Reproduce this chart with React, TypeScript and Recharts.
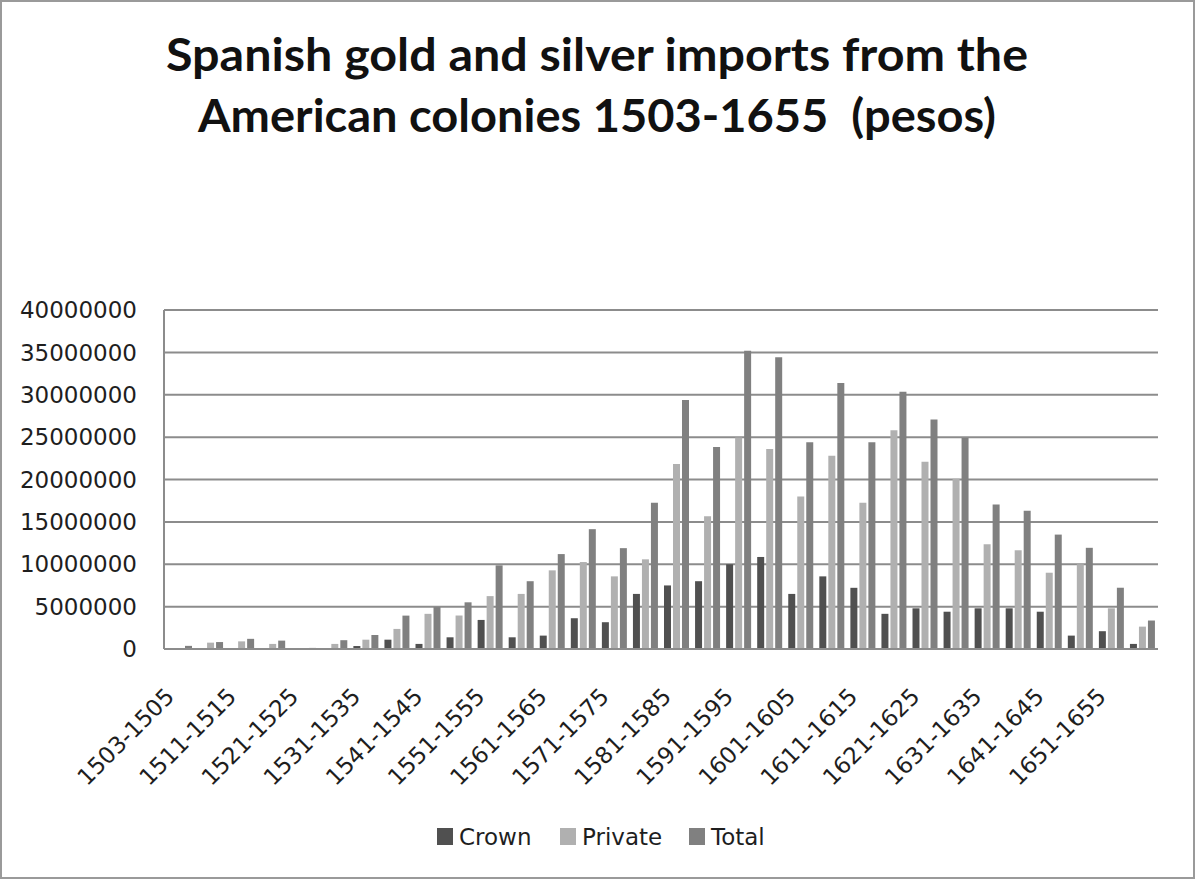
import React from "react";
import { BarChart, Bar, XAxis, YAxis, CartesianGrid } from "recharts";

const categories = [
  "1503-1505", "1506-1510", "1511-1515", "1516-1520", "1521-1525", "1526-1530",
  "1531-1535", "1536-1540", "1541-1545", "1546-1550", "1551-1555", "1556-1560",
  "1561-1565", "1566-1570", "1571-1575", "1576-1580", "1581-1585", "1586-1590",
  "1591-1595", "1596-1600", "1601-1605", "1606-1610", "1611-1615", "1616-1620",
  "1621-1625", "1626-1630", "1631-1635", "1636-1640", "1641-1645", "1646-1650",
  "1651-1655", "1656-1660",
];

const crown = [
  0, 0, 0, 0, 0, 0,
  350000, 1100000, 600000, 1380000, 3430000, 1380000,
  1580000, 3630000, 3160000, 6500000, 7500000, 8000000,
  10000000, 10860000, 6500000, 8570000, 7220000, 4150000,
  4800000, 4400000, 4800000, 4800000, 4400000, 1580000,
  2100000, 600000,
];

const privateImports = [
  0, 750000, 900000, 600000, 100000, 600000,
  1100000, 2370000, 4150000, 3950000, 6240000, 6500000,
  9280000, 10260000, 8570000, 10580000, 21830000, 15670000,
  24950000, 23600000, 18000000, 22800000, 17250000, 25800000,
  22100000, 20100000, 12360000, 11650000, 9000000, 10000000,
  4800000, 2640000,
];

const total = [
  370000, 820000, 1200000, 990000, 130000, 1040000,
  1650000, 3940000, 4950000, 5510000, 9870000, 8000000,
  11200000, 14140000, 11900000, 17250000, 29370000, 23830000,
  35180000, 34430000, 24400000, 31400000, 24400000, 30350000,
  27070000, 24900000, 17050000, 16300000, 13500000, 11940000,
  7230000, 3360000,
];

const yTicks = [0, 5000000, 10000000, 15000000, 20000000, 25000000, 30000000, 35000000, 40000000];

const seriesNames = ["Crown", "Private", "Total"];
const seriesColors = ["#505050", "#b0b0b0", "#808080"];

const data = categories.map((c, i) => ({
  period: c,
  Crown: crown[i],
  Private: privateImports[i],
  Total: total[i],
}));

const FONT = "'DejaVu Sans', sans-serif";

const XTick = (props: any) => {
  const { x, y, payload } = props;
  const ax = x - 4;
  const ay = y + 49;
  return (
    <text
      x={ax}
      y={ay}
      transform={`rotate(-45 ${ax} ${ay})`}
      textAnchor="end"
      fontFamily={FONT}
      fontSize={23}
      fill="#1e1e1e"
    >
      {payload.value}
    </text>
  );
};

const legendX = [437, 560, 689];

export default function App() {
  return (
    <div
      style={{
        position: "absolute",
        left: 0,
        top: 0,
        width: 1195,
        height: 879,
        background: "#ffffff",
        overflow: "hidden",
      }}
    >
      <BarChart
        width={1195}
        height={879}
        data={data}
        margin={{ top: 310, right: 37, bottom: 30, left: 0 }}
        barSize={7}
        barGap={2}
      >
        <CartesianGrid vertical={false} stroke="#8c8c8c" strokeWidth={2} />
        <XAxis
          dataKey="period"
          height={200}
          interval={1}
          tickLine={false}
          tickSize={0}
          tickMargin={0}
          axisLine={{ stroke: "#8c8c8c", strokeWidth: 2 }}
          tick={<XTick />}
        />
        <YAxis
          width={164}
          domain={[0, 40000000]}
          ticks={yTicks}
          interval={0}
          tickLine={false}
          tickSize={0}
          tickMargin={27}
          axisLine={{ stroke: "#8c8c8c", strokeWidth: 2 }}
          tick={{ fontFamily: FONT, fontSize: 23, fill: "#1e1e1e" }}
          tickFormatter={(v: number) => String(v)}
        />
        {seriesNames.map((name, i) => (
          <Bar
            key={name}
            dataKey={name}
            fill={seriesColors[i]}
            isAnimationActive={false}
          />
        ))}
      </BarChart>
      <svg
        width={1195}
        height={879}
        style={{ position: "absolute", left: 0, top: 0, pointerEvents: "none" }}
      >
        <text
          x={597}
          y={71}
          textAnchor="middle"
          fontFamily="Lato, 'Open Sans', sans-serif"
          fontWeight={700}
          fontSize={45}
          textLength={862}
          lengthAdjust="spacingAndGlyphs"
          fill="#111"
        >
          Spanish gold and silver imports from the
        </text>
        <text
          x={597}
          y={132}
          textAnchor="middle"
          fontFamily="Lato, 'Open Sans', sans-serif"
          fontWeight={700}
          fontSize={45}
          textLength={798}
          lengthAdjust="spacingAndGlyphs"
          fill="#111"
          style={{ whiteSpace: "pre" }}
        >
          American colonies 1503-1655  (pesos)
        </text>
        {seriesNames.map((name, i) => (
          <g key={name}>
            <rect x={legendX[i]} y={828} width={16} height={17} fill={seriesColors[i]} />
            <text x={legendX[i] + 22} y={845} fontFamily={FONT} fontSize={23} fill="#1e1e1e">
              {name}
            </text>
          </g>
        ))}
        <rect x={1} y={1} width={1193} height={877} fill="none" stroke="#9a9a9a" strokeWidth={2} />
      </svg>
    </div>
  );
}
